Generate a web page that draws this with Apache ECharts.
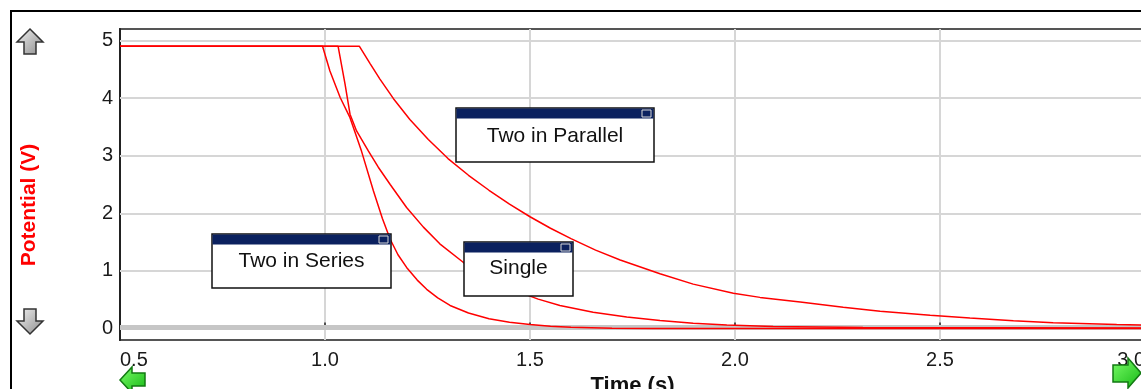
<!DOCTYPE html>
<html>
<head>
<meta charset="utf-8">
<script src="https://cdn.jsdelivr.net/npm/echarts@6/dist/echarts.min.js"></script>
<style>
  html, body { margin: 0; padding: 0; background: #fff; }
  #chart { width: 1141px; height: 389px; }
</style>
</head>
<body>
<div id="chart"></div>
<script>
// tick labels
const xTicks = [0.5, 1.0, 1.5, 2.0, 2.5, 3.0];
const yTicks = [0, 1, 2, 3, 4, 5];
const yGrid = [1, 2, 3, 4, 5];

// Two in Series (fastest discharge)
const seriesTime = [0.5, 0.994, 1.012, 1.037, 1.061, 1.089, 1.118, 1.14, 1.159, 1.178, 1.199, 1.225, 1.248, 1.275, 1.305, 1.35, 1.40, 1.45, 1.50, 1.55, 1.60, 1.70, 1.80, 3.0];
const seriesVolt = [4.9, 4.9, 4.47, 4.01, 3.66, 3.08, 2.39, 1.91, 1.55, 1.28, 1.06, 0.84, 0.68, 0.53, 0.40, 0.27, 0.17, 0.11, 0.07, 0.04, 0.02, 0.005, 0, 0];

// Single capacitor
const singleTime = [0.5, 1.032, 1.049, 1.061, 1.077, 1.106, 1.13, 1.159, 1.199, 1.24, 1.28, 1.337, 1.38, 1.427, 1.47, 1.52, 1.573, 1.654, 1.736, 1.817, 1.898, 1.98, 2.093, 2.312, 3.0];
const singleVolt = [4.9, 4.9, 4.24, 3.72, 3.43, 3.08, 2.8, 2.5, 2.1, 1.76, 1.47, 1.15, 0.95, 0.78, 0.64, 0.51, 0.40, 0.28, 0.20, 0.14, 0.09, 0.06, 0.035, 0.017, 0.01];

// Two in Parallel (slowest)
const parallelTime = [0.5, 1.084, 1.11, 1.134, 1.167, 1.207, 1.252, 1.30, 1.35, 1.40, 1.45, 1.5, 1.55, 1.6, 1.66, 1.72, 1.817, 1.898, 1.996, 2.061, 2.159, 2.264, 2.354, 2.476, 2.573, 2.679, 2.776, 2.931, 3.0];
const parallelVolt = [4.9, 4.9, 4.6, 4.33, 3.99, 3.63, 3.28, 2.95, 2.66, 2.40, 2.16, 1.94, 1.74, 1.56, 1.36, 1.19, 0.95, 0.77, 0.61, 0.54, 0.46, 0.37, 0.30, 0.23, 0.18, 0.135, 0.10, 0.07, 0.06];

const labelNames = ['Two in Parallel', 'Two in Series', 'Single'];

function pairs(t, v) {
  return t.map((x, i) => [x, v[i]]);
}

const FONT = '"Liberation Sans", Arial, sans-serif';
const RED = '#ff0000';

function curve(name, t, v) {
  return {
    name: name,
    type: 'line',
    data: pairs(t, v),
    showSymbol: false,
    smooth: false,
    lineStyle: { color: RED, width: 1.5 },
    silent: true,
    z: 10
  };
}

// annotation box: navy title bar + white body with text
function noteBox(x, y, w, text, textY) {
  return {
    type: 'group',
    x: x, y: y, z: 100,
    children: [
      { type: 'rect', shape: { x: 0, y: 0, width: w, height: 54 },
        style: { fill: '#fff', stroke: '#111', lineWidth: 1.5 }, z: 100 },
      { type: 'rect', shape: { x: 0.5, y: 0.5, width: w - 1, height: 10 },
        style: { fill: '#0b215f' }, z: 101 },
      { type: 'rect', shape: { x: w - 12, y: 2, width: 9, height: 7 },
        style: { fill: '#0b215f', stroke: '#d8d8d8', lineWidth: 1 }, z: 102 },
      { type: 'text', x: w / 2, y: textY, z: 102,
        style: { text: text, font: '21px ' + FONT, fill: '#111', textAlign: 'center', textVerticalAlign: 'middle' } }
    ]
  };
}

function arrow(points, fillTop, fillBottom, stroke) {
  return {
    type: 'polygon', z: 100,
    shape: { points: points },
    style: {
      fill: new echarts.graphic.LinearGradient(0, 0, 1, 1, [
        { offset: 0, color: fillTop }, { offset: 1, color: fillBottom }
      ]),
      stroke: stroke, lineWidth: 1.5
    }
  };
}

const chart = echarts.init(document.getElementById('chart'), null, { renderer: 'canvas' });

chart.setOption({
  backgroundColor: '#fff',
  animation: false,
  grid: {
    left: 120, top: 29, width: 1025, height: 311,
    show: true, borderColor: '#555', borderWidth: 2,
    outerBoundsMode: 'none',
    containLabel: false
  },
  xAxis: {
    type: 'value',
    min: 0.5, max: 3.0, interval: 0.5,
    name: 'Time (s)',
    nameLocation: 'middle',
    nameGap: 25,
    nameTextStyle: { fontFamily: FONT, fontSize: 22, fontWeight: 'bold', color: '#111' },
    axisLine: { show: true, lineStyle: { color: '#222', width: 2 } },
    axisTick: { show: true, inside: true, length: 6, lineStyle: { color: '#222', width: 1.5 } },
    axisLabel: {
      fontFamily: FONT, fontSize: 20, color: '#1a1a1a', margin: 10,
      alignMinLabel: 'left', alignMaxLabel: 'right',
      formatter: v => v.toFixed(1)
    },
    splitLine: { show: true, lineStyle: { color: '#d6d6d6', width: 2 } }
  },
  yAxis: {
    type: 'value',
    min: -0.2, max: 5.2,
    axisLine: { show: true, lineStyle: { color: '#222', width: 2 } },
    axisTick: { show: true, inside: true, length: 8, customValues: yTicks, lineStyle: { color: '#222', width: 1.5 } },
    axisLabel: { fontFamily: FONT, fontSize: 20, color: '#1a1a1a', margin: 7, customValues: yTicks },
    splitLine: { show: false }
  },
  series: [
    {
      // grid lines for the value axis
      type: 'line',
      data: [],
      silent: true,
      z: 1,
      markLine: {
        silent: true,
        z: 1,
        symbol: ['none', 'none'],
        label: { show: false },
        animation: false,
        data: yGrid.map(v => ({ yAxis: v, lineStyle: { color: '#d6d6d6', width: 2, type: 'solid' } }))
          .concat([{ yAxis: 0.03, lineStyle: { color: '#c6c6c6', width: 5, type: 'solid' } }])
      }
    },
    curve(labelNames[1], seriesTime, seriesVolt),
    curve(labelNames[2], singleTime, singleVolt),
    curve(labelNames[0], parallelTime, parallelVolt)
  ],
  graphic: [
    // outer frame
    { type: 'rect', z: 90, shape: { x: 11, y: 11, width: 1400, height: 600 },
      style: { fill: 'none', stroke: '#000', lineWidth: 2 } },
    // y axis title
    { type: 'text', x: 29, y: 205, rotation: Math.PI / 2, z: 100,
      style: { text: 'Potential (V)', font: 'bold 21px ' + FONT, fill: RED, textAlign: 'center', textVerticalAlign: 'middle' } },
    // scroll arrows
    arrow([[30, 29], [43, 42], [36, 42], [36, 54], [24, 54], [24, 42], [17, 42]], '#f4f4f4', '#8a8a8a', '#333'),
    arrow([[24, 309], [36, 309], [36, 321], [43, 321], [30, 334], [17, 321], [24, 321]], '#f4f4f4', '#8a8a8a', '#333'),
    arrow([[120, 380], [132, 367], [132, 373], [145, 373], [145, 386], [132, 386], [132, 393]], '#7dff6a', '#13b613', '#127a12'),
    arrow([[1141, 373], [1128, 358], [1128, 365], [1113, 365], [1113, 382], [1128, 382], [1128, 388]], '#7dff6a', '#13b613', '#127a12'),
    // annotation boxes
    noteBox(456, 108, 198, labelNames[0], 28),
    noteBox(212, 234, 179, labelNames[1], 27),
    noteBox(464, 242, 109, labelNames[2], 26)
  ]
});
</script>
</body>
</html>
